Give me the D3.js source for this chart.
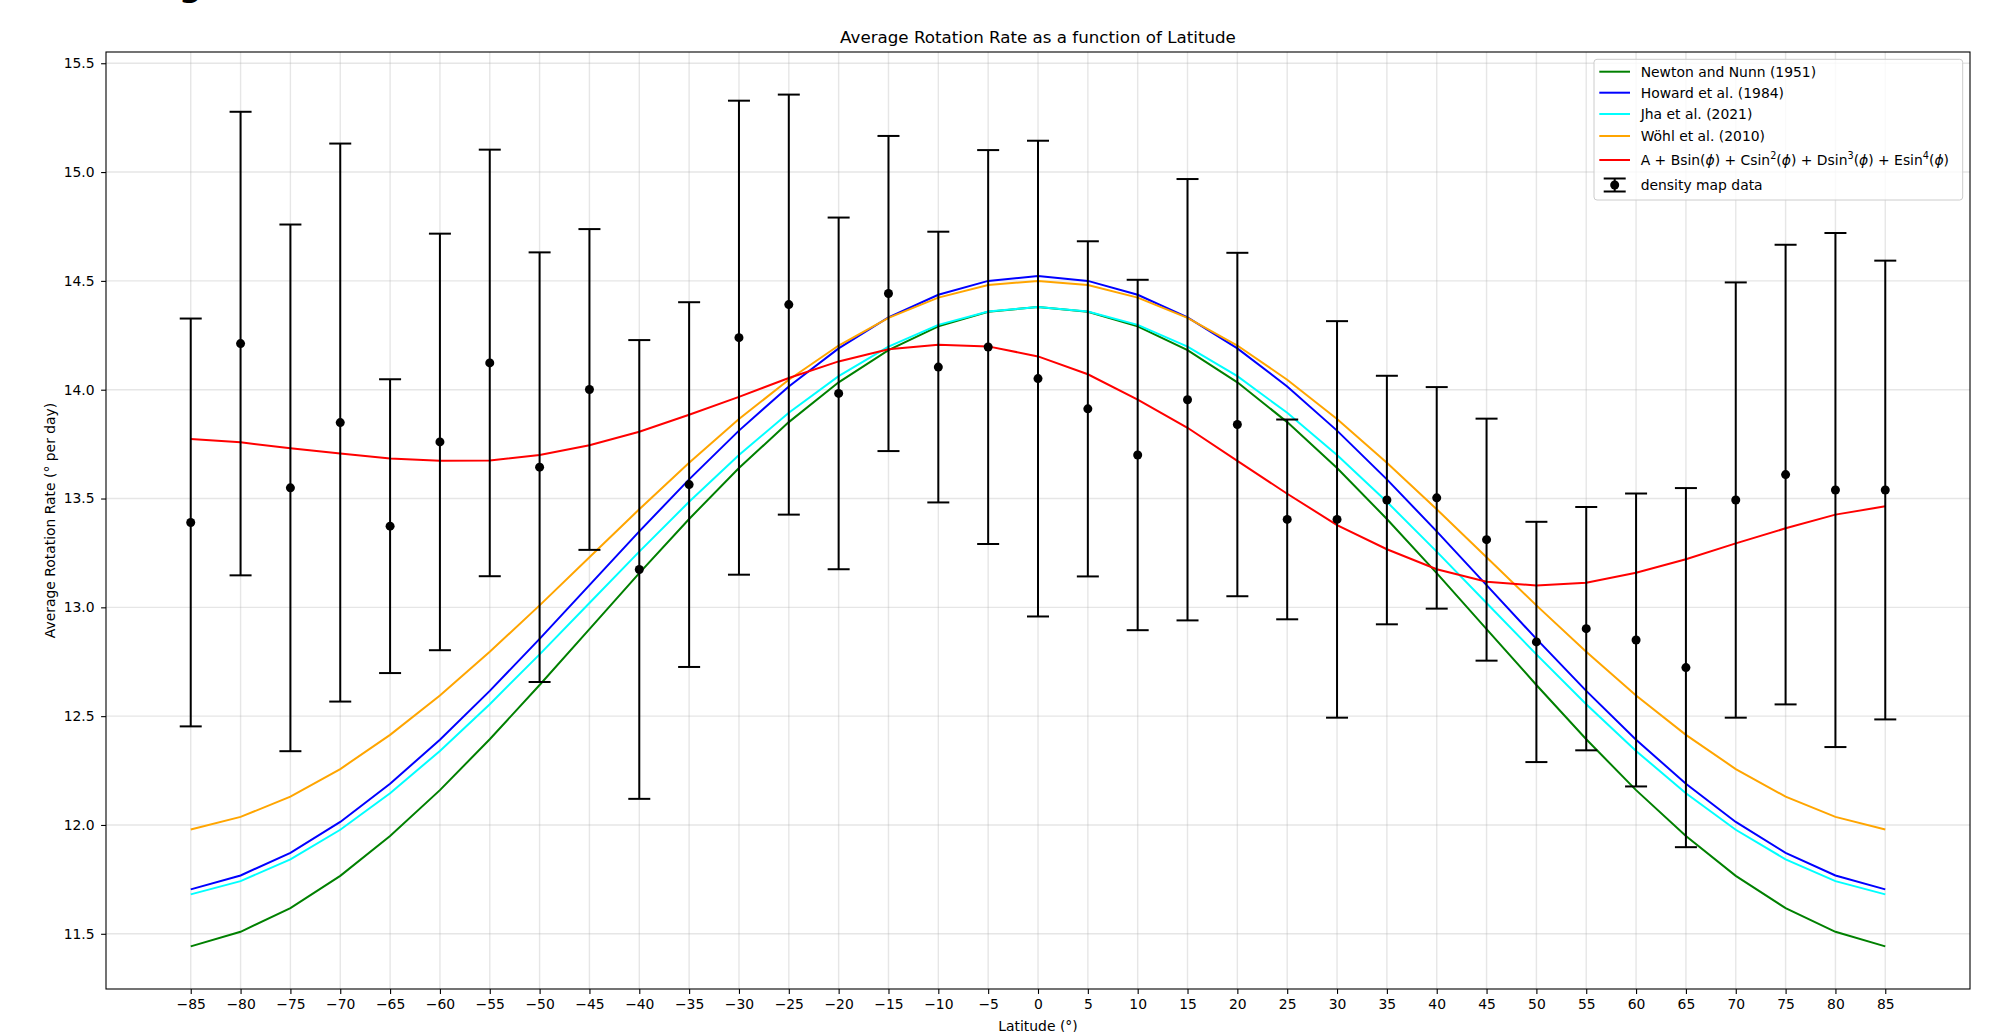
<!DOCTYPE html>
<html>
<head>
<meta charset="utf-8"/>
<title>Average Rotation Rate as a function of Latitude</title>
<style>
body { margin: 0; background: #fff; }
svg { display: block; font-family: 'DejaVu Sans', sans-serif; }
.tick text { font-size: 13.9px; fill: #000; font-family: 'DejaVu Sans', sans-serif; }
.tick line { stroke: #000; stroke-width: 1.1px; }
</style>
</head>
<body>
<svg width="1998" height="1032"></svg>
<script src="https://d3js.org/d3.v7.min.js"></script>
<script>

var latitudes = [-85,-80,-75,-70,-65,-60,-55,-50,-45,-40,-35,-30,-25,-20,-15,-10,-5,0,
                 5,10,15,20,25,30,35,40,45,50,55,60,65,70,75,80,85];

var newtonNunn = [11.442,11.509,11.618,11.766,11.949,12.160,12.394,12.643,12.900,13.157,13.406,13.640,13.851,14.034,14.182,14.291,14.358,14.380,
                  14.358,14.291,14.182,14.034,13.851,13.640,13.406,13.157,12.900,12.643,12.394,12.160,11.949,11.766,11.618,11.509,11.442];
var howard = [11.704,11.768,11.872,12.014,12.189,12.392,12.616,12.855,13.102,13.349,13.588,13.812,14.015,14.190,14.332,14.436,14.500,14.522,
              14.500,14.436,14.332,14.190,14.015,13.812,13.588,13.349,13.102,12.855,12.616,12.392,12.189,12.014,11.872,11.768,11.704];
var jha = [11.681,11.742,11.842,11.978,12.146,12.340,12.555,12.784,13.020,13.256,13.485,13.700,13.894,14.062,14.198,14.298,14.359,14.380,
           14.359,14.298,14.198,14.062,13.894,13.700,13.485,13.256,13.020,12.784,12.555,12.340,12.146,11.978,11.842,11.742,11.681];
var wohl = [11.979,12.037,12.130,12.257,12.414,12.595,12.796,13.009,13.230,13.451,13.664,13.865,14.046,14.203,14.330,14.423,14.481,14.500,
            14.481,14.423,14.330,14.203,14.046,13.865,13.664,13.451,13.230,13.009,12.796,12.595,12.414,12.257,12.130,12.037,11.979];
var polyFit = [13.774,13.758,13.731,13.707,13.684,13.673,13.675,13.700,13.745,13.807,13.885,13.967,14.054,14.130,14.186,14.207,14.199,14.153,
               14.071,13.954,13.825,13.673,13.522,13.378,13.267,13.175,13.118,13.100,13.113,13.159,13.221,13.294,13.363,13.426,13.464];

var densityMean = [13.390,14.212,13.549,13.849,13.373,13.760,14.123,13.644,14.001,13.174,13.564,14.239,14.391,13.983,14.442,14.104,14.196,14.051,
                   13.912,13.700,13.954,13.840,13.404,13.404,13.493,13.503,13.311,12.841,12.902,12.850,12.723,13.493,13.610,13.539,13.539];
var densityErr = [0.937,1.065,1.210,1.282,0.675,0.957,0.980,0.987,0.737,1.054,0.838,1.089,0.965,0.808,0.724,0.622,0.905,1.093,
                  0.770,0.805,1.014,0.789,0.459,0.911,0.571,0.509,0.556,0.552,0.559,0.673,0.825,1.000,1.056,1.181,1.054];

var yTicks = [11.5,12.0,12.5,13.0,13.5,14.0,14.5,15.0,15.5];

var seriesNames = ["Newton and Nunn (1951)","Howard et al. (1984)","Jha et al. (2021)","Wöhl et al. (2010)"];
var seriesColors = ["green","blue","cyan","orange","red"];
var seriesValues = [newtonNunn, howard, jha, wohl, polyFit];

var svg = d3.select("svg"),
    margin = {top: 52, right: 28, bottom: 43, left: 106},
    width = +svg.attr("width"),
    height = +svg.attr("height");

// y limits like matplotlib: data extent (incl. error bars) padded by 5%
var allY = [];
seriesValues.forEach(function(s) { allY = allY.concat(s); });
densityMean.forEach(function(m, i) { allY.push(m - densityErr[i], m + densityErr[i]); });
var yMin = d3.min(allY), yMax = d3.max(allY), pad = (yMax - yMin) * 0.05;

var x = d3.scaleLinear()
    .domain([-93.5, 93.5])
    .range([margin.left, width - margin.right]);

var y = d3.scaleLinear()
    .domain([yMin - pad, yMax + pad])
    .range([height - margin.bottom, margin.top]);

// cut-off glyph at the very top
svg.append("text")
    .attr("x", 179).attr("y", -3.8)
    .style("font-size", "32px").style("font-weight", "bold")
    .text("g");

// grid
var grid = svg.append("g").attr("stroke", "#b0b0b0").attr("stroke-opacity", 0.32).attr("stroke-width", 1.4);
grid.selectAll(".gx").data(latitudes).enter().append("line")
    .attr("x1", function(d) { return x(d); }).attr("x2", function(d) { return x(d); })
    .attr("y1", margin.top).attr("y2", height - margin.bottom);
grid.selectAll(".gy").data(yTicks).enter().append("line")
    .attr("y1", function(d) { return y(d); }).attr("y2", function(d) { return y(d); })
    .attr("x1", margin.left).attr("x2", width - margin.right);

// model curves
var line = d3.line()
    .x(function(d) { return x(d[0]); })
    .y(function(d) { return y(d[1]); });

seriesValues.forEach(function(vals, k) {
  svg.append("path")
    .datum(latitudes.map(function(l, i) { return [l, vals[i]]; }))
    .attr("fill", "none")
    .attr("stroke", seriesColors[k])
    .attr("stroke-width", 2)
    .attr("d", line);
});

// density map data with error bars
var eb = svg.append("g").selectAll("g")
    .data(latitudes.map(function(l, i) { return {lat: l, m: densityMean[i], e: densityErr[i]}; }))
  .enter().append("g");

eb.append("line")
    .attr("x1", function(d) { return x(d.lat); }).attr("x2", function(d) { return x(d.lat); })
    .attr("y1", function(d) { return y(d.m - d.e); }).attr("y2", function(d) { return y(d.m + d.e); })
    .attr("stroke", "#000").attr("stroke-width", 2);
[-1, 1].forEach(function(sgn) {
  eb.append("line")
    .attr("x1", function(d) { return x(d.lat) - 11; }).attr("x2", function(d) { return x(d.lat) + 11; })
    .attr("y1", function(d) { return y(d.m + sgn * d.e); }).attr("y2", function(d) { return y(d.m + sgn * d.e); })
    .attr("stroke", "#000").attr("stroke-width", 2);
});
eb.append("circle")
    .attr("cx", function(d) { return x(d.lat); })
    .attr("cy", function(d) { return y(d.m); })
    .attr("r", 4.5)
    .attr("fill", "#000");

// axes
svg.append("g")
    .attr("transform", "translate(0," + (height - margin.bottom) + ")")
    .call(d3.axisBottom(x).tickValues(latitudes).tickFormat(d3.format("d")).tickSize(4.9).tickPadding(4.9))
    .call(function(g) { g.select(".domain").remove(); });

svg.append("g")
    .attr("transform", "translate(" + margin.left + ",0)")
    .call(d3.axisLeft(y).tickValues(yTicks).tickFormat(d3.format(".1f")).tickSize(4.9).tickPadding(6.5))
    .call(function(g) { g.select(".domain").remove(); });

svg.append("rect")
    .attr("x", margin.left).attr("y", margin.top)
    .attr("width", width - margin.left - margin.right)
    .attr("height", height - margin.top - margin.bottom)
    .attr("fill", "none").attr("stroke", "#000").attr("stroke-width", 1.1);

// titles
svg.append("text")
    .attr("x", (margin.left + width - margin.right) / 2).attr("y", 43)
    .attr("text-anchor", "middle").style("font-size", "16.7px")
    .text("Average Rotation Rate as a function of Latitude");

svg.append("text")
    .attr("x", (margin.left + width - margin.right) / 2).attr("y", 1031)
    .attr("text-anchor", "middle").style("font-size", "13.9px")
    .text("Latitude (°)");

svg.append("text")
    .attr("transform", "translate(55," + ((margin.top + height - margin.bottom) / 2) + ") rotate(-90)")
    .attr("text-anchor", "middle").style("font-size", "13.9px")
    .text("Average Rotation Rate (° per day)");

// legend
var lg = svg.append("g");
lg.append("rect")
    .attr("x", 1594).attr("y", 59.3).attr("width", 368.7).attr("height", 140.7)
    .attr("rx", 3).attr("fill", "#fff").attr("fill-opacity", 0.8)
    .attr("stroke", "#cccccc").attr("stroke-width", 1);

var rowY = [71.7, 92.7, 114, 136, 160, 185];

seriesColors.forEach(function(c, k) {
  lg.append("line")
    .attr("x1", 1599.3).attr("x2", 1630).attr("y1", rowY[k]).attr("y2", rowY[k])
    .attr("stroke", c).attr("stroke-width", 2);
});
seriesNames.forEach(function(n, k) {
  lg.append("text").attr("x", 1640.7).attr("y", rowY[k] + 5).style("font-size", "13.9px").text(n);
});

// fit label: pieces of [text, style] where style is "n" normal, "i" italic phi, "s" superscript
var fitLabel = [["A + Bsin(", "n"], ["ϕ", "i"], [") + Csin", "n"], ["2", "s"], ["(", "n"], ["ϕ", "i"],
                [") + Dsin", "n"], ["3", "s"], ["(", "n"], ["ϕ", "i"],
                [") + Esin", "n"], ["4", "s"], ["(", "n"], ["ϕ", "i"], [")", "n"]];
var ft = lg.append("text").attr("x", 1640.7).attr("y", rowY[4] + 5).style("font-size", "13.9px");
var raised = false;
fitLabel.forEach(function(p) {
  var ts = ft.append("tspan").text(p[0]);
  if (p[1] === "s") {
    ts.attr("dy", -6).style("font-size", "9.7px");
    raised = true;
  } else {
    if (raised) { ts.attr("dy", 6); raised = false; }
    if (p[1] === "i") ts.style("font-style", "italic");
  }
});

var hx = 1614.7, hy = rowY[5];
lg.append("line").attr("x1", hx).attr("x2", hx).attr("y1", hy - 6.5).attr("y2", hy + 6.5)
    .attr("stroke", "#000").attr("stroke-width", 2);
[-6.5, 6.5].forEach(function(o) {
  lg.append("line").attr("x1", hx - 11).attr("x2", hx + 11).attr("y1", hy + o).attr("y2", hy + o)
    .attr("stroke", "#000").attr("stroke-width", 2);
});
lg.append("circle").attr("cx", hx).attr("cy", hy).attr("r", 4.5).attr("fill", "#000");
lg.append("text").attr("x", 1640.7).attr("y", hy + 5).style("font-size", "13.9px").text("density map data");

</script>
</body>
</html>
